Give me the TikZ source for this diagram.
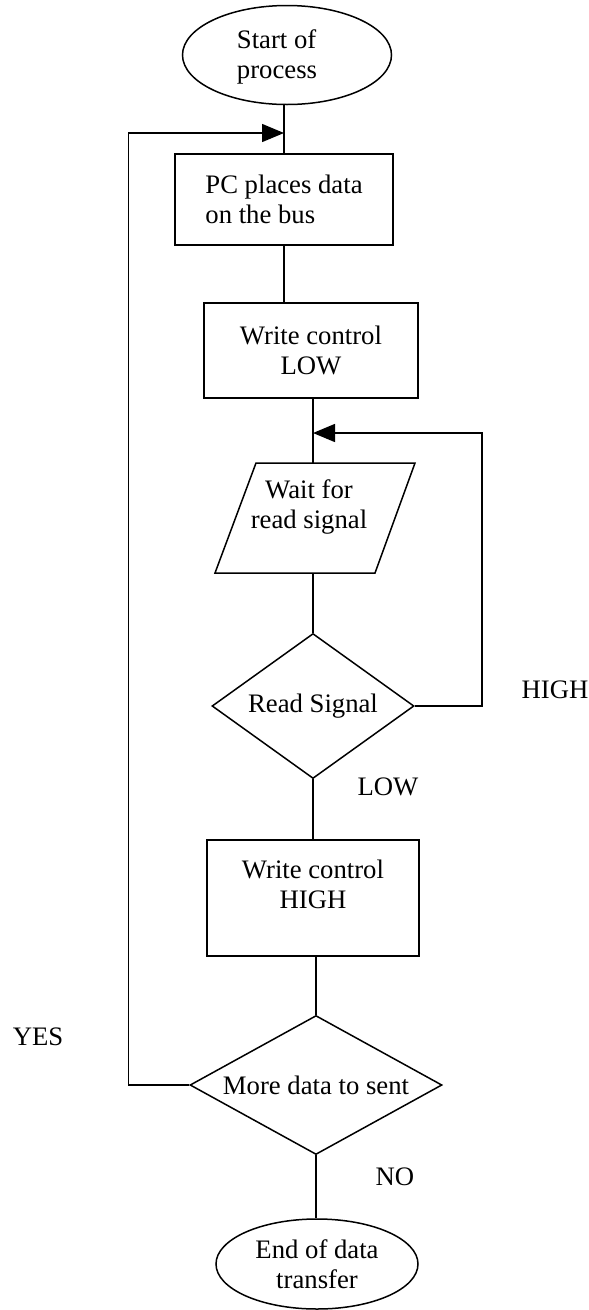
\documentclass[tikz,border=0pt]{standalone}
\usepackage{fontspec}
\setmainfont{Liberation Serif}
\usetikzlibrary{shapes.geometric,arrows.meta}
\begin{document}
\begin{tikzpicture}[x=1pt,y=-1pt,
  every node/.style={font=\fontsize{26.7pt}{30pt}\selectfont, inner sep=0pt},
  flow/.style={line width=1.5pt},
  box/.style={draw, line width=1.5pt, rectangle},
  oval/.style={draw, line width=1.5pt, ellipse},
  decision/.style={draw, line width=1.5pt, diamond, aspect=1.6},
  tip/.style={-{Triangle[length=22pt,width=18pt]}}
]
\useasboundingbox (0,0) rectangle (589,1310);
\fill[white] (0,0) rectangle (589,1310);

% terminals, process boxes and decisions
\node[oval, minimum width=209pt, minimum height=99pt] (start) at (287,55) {};
\node[align=left] (starttext) at (277,57) {Start of\\process};

\node[box, minimum width=218pt, minimum height=91pt, align=left] (pc) at (284,199.5) {PC places data\\on the bus};

\node[box, minimum width=214pt, minimum height=95pt, align=center] (low) at (311,350.5) {Write control\\LOW};

% input/output parallelogram
\coordinate (waitTop) at (313,463);
\coordinate (waitBot) at (313,573);
\draw[flow] (256,463) -- (415,463) -- (375,573) -- (215,573) -- cycle;
\node[align=center] (wait) at (309,507) {Wait for\\read signal};

\node[decision, minimum width=202pt, minimum height=145pt] (read) at (313,706) {Read Signal};

\node[box, minimum width=212pt, minimum height=116pt] (high) at (313,898) {};
\node[align=center] (hightext) at (313,884) {Write control\\HIGH};

\node[decision, minimum width=252pt, minimum height=139pt] (more) at (316,1085) {More data to sent};

\node[oval, minimum width=202pt, minimum height=90pt, align=center] (end) at (317,1264) {End of data\\transfer};

% junctions where the loops rejoin the main flow
\coordinate (join1) at (284,133);
\coordinate (join2) at (313,433);

% main flow
\draw[flow] (pc.north |- start.south) -- (pc.north);
\draw[flow] (pc.south) -- (pc.south |- low.north);
\draw[flow] (waitTop |- low.south) -- (waitTop);
\draw[flow] (waitBot) -- (read.north);
\draw[flow] (read.south) -- (high.north);
\draw[flow] (more.north |- high.south) -- (more.north);
\draw[flow] (more.south) -- (more.south |- end.north);

% loops back
\draw[flow, tip] (read.east) -- ++(67,0) |- (join2);
\draw[flow, tip] (more.west) -- ++(-61,0) |- (join1);

% branch labels
\node (lhigh) at (555,690) {HIGH};
\node (llow) at (388,787) {LOW};
\node (lyes) at (38,1037) {YES};
\node (lno) at (395,1177) {NO};
\end{tikzpicture}
\end{document}
